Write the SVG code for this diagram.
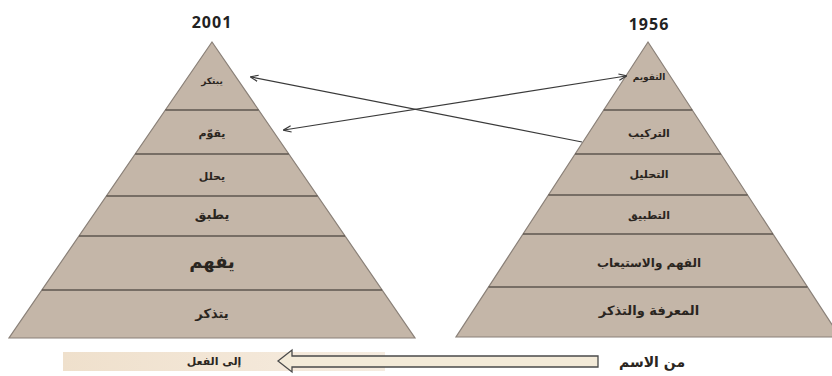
<svg xmlns="http://www.w3.org/2000/svg" width="832" height="376" viewBox="0 0 832 376">
<defs>
<style>
.pyr{fill:#c4b6a8;stroke:#8a8078;stroke-width:1.2}
.div{stroke:#5e564f;stroke-width:1.6}
.ar{font-family:"DejaVu Sans",sans-serif;fill:#2a2520;text-anchor:middle;font-weight:bold}
.yr{font-family:"Open Sans","DejaVu Sans",sans-serif;font-weight:bold;font-size:16px;letter-spacing:1px;fill:#222;text-anchor:middle}
.con{stroke:#3a3a3a;stroke-width:1.2;fill:none}
</style>
<marker id="ah" viewBox="0 0 10 10" refX="9" refY="5" markerWidth="8" markerHeight="8" orient="auto-start-reverse" markerUnits="userSpaceOnUse">
<path d="M0,1 L10,5 L0,9" fill="none" stroke="#3a3a3a" stroke-width="1.5"/>
</marker>
<linearGradient id="bar" x1="0" x2="1" y1="0" y2="0">
<stop offset="0" stop-color="#efe0cc"/>
<stop offset="1" stop-color="#f6ece0"/>
</linearGradient>
</defs>
<rect width="832" height="376" fill="#ffffff"/>

<g id="pyramid-2001">
<text class="yr" x="212" y="28">2001</text>
<polygon class="pyr" points="212,42 415,338 9,338"/>
<line class="div" x1="165.4" y1="110" x2="258.6" y2="110"/>
<line class="div" x1="135.2" y1="154" x2="288.8" y2="154"/>
<line class="div" x1="106.4" y1="196" x2="317.6" y2="196"/>
<line class="div" x1="79" y1="236" x2="345" y2="236"/>
<line class="div" x1="41.9" y1="290" x2="382.1" y2="290"/>
<text class="ar" x="212" y="84" font-size="9">يبتكر</text>
<text class="ar" x="212" y="137" font-size="11">يقوّم</text>
<text class="ar" x="212" y="180" font-size="11">يحلل</text>
<text class="ar" x="212" y="219" font-size="13">يطبق</text>
<text class="ar" x="212" y="268" font-size="18">يفهم</text>
<text class="ar" x="212" y="318" font-size="13">يتذكر</text>
</g>

<g id="pyramid-1956">
<text class="yr" x="649" y="30">1956</text>
<polygon class="pyr" points="648,42 840,337 456,337"/>
<line class="div" x1="603.7" y1="110" x2="692.3" y2="110"/>
<line class="div" x1="575.1" y1="154" x2="720.9" y2="154"/>
<line class="div" x1="548.4" y1="195" x2="747.6" y2="195"/>
<line class="div" x1="523" y1="234" x2="773" y2="234"/>
<line class="div" x1="488.6" y1="287" x2="807.4" y2="287"/>
<text class="ar" x="649" y="80" font-size="9">التقويم</text>
<text class="ar" x="649" y="137" font-size="11">التركيب</text>
<text class="ar" x="649" y="178" font-size="11">التحليل</text>
<text class="ar" x="649" y="219" font-size="11">التطبيق</text>
<text class="ar" x="649" y="267" font-size="12">الفهم والاستيعاب</text>
<text class="ar" x="649" y="315" font-size="13">المعرفة والتذكر</text>
</g>

<g id="connectors">
<line class="con" x1="582" y1="142" x2="251" y2="77" marker-end="url(#ah)"/>
<line class="con" x1="284" y1="130" x2="626" y2="76" marker-start="url(#ah)" marker-end="url(#ah)"/>
</g>

<g id="bottom">
<rect x="63" y="352" width="322" height="19" fill="url(#bar)"/>
<text class="ar" x="214" y="365" font-size="11">إلى الفعل</text>
<path d="M278,361 L292,350 L292,356 L598,356 L598,367 L292,367 L292,372 Z" fill="#f3ead8" stroke="#4a4a4a" stroke-width="1.3"/>
<text class="ar" x="652" y="367" font-size="14">من الاسم</text>
</g>
</svg>
